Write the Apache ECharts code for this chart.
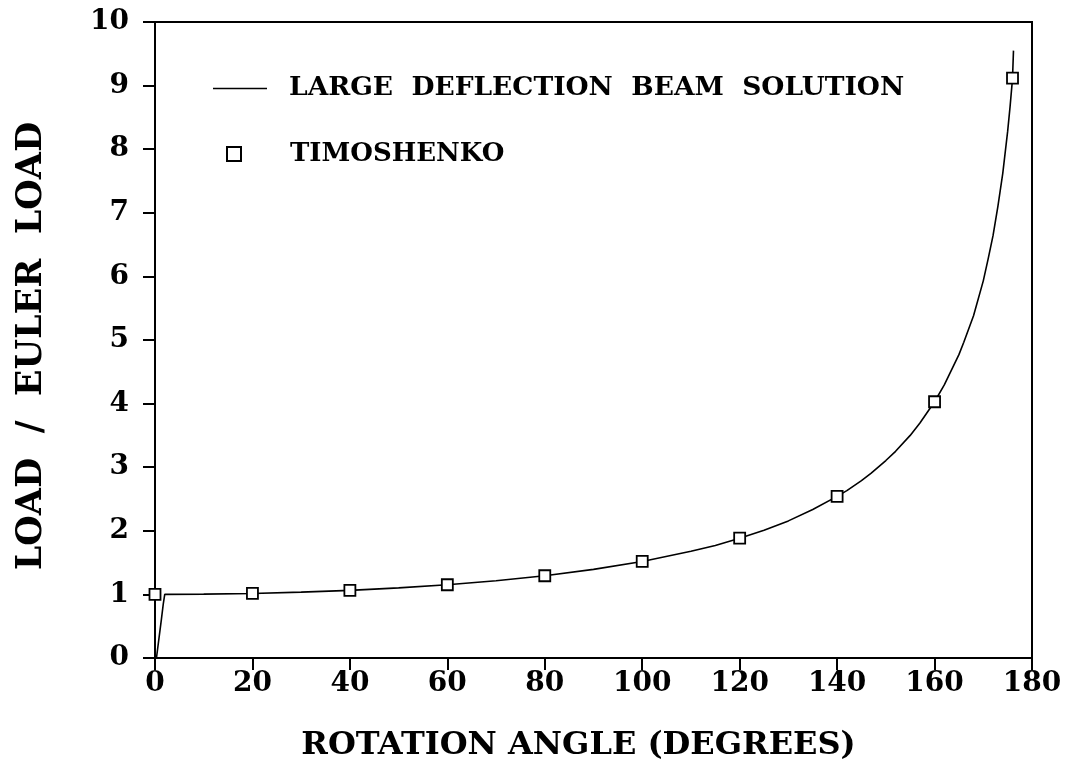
<!DOCTYPE html>
<html>
<head>
  <meta charset="utf-8">
  <title>Large deflection beam</title>
  <script src="https://cdn.jsdelivr.net/npm/echarts@6/dist/echarts.min.js"></script>
  <style>
    html, body { margin: 0; padding: 0; background: #fff; }
  </style>
</head>
<body>
<div id="main" style="width: 1067px;height:772px;"></div>
<script type="text/javascript">
  // large deflection curve
  var beamAngle = [0.3, 0.8, 1.3, 1.7, 2.0, 10, 20, 30, 40, 50, 60, 70, 80, 90, 100, 110, 115, 120, 125, 130, 135, 140, 142, 145, 147, 150, 152, 155, 157, 160, 162, 165, 166, 168, 170, 171, 172, 173, 174, 175, 175.5, 176, 176.2];
  var beamLoad  = [0.0, 0.3, 0.6, 0.85, 1.0, 1.004, 1.015, 1.035, 1.063, 1.102, 1.152, 1.215, 1.293, 1.393, 1.518, 1.678, 1.77, 1.884, 2.01, 2.156, 2.335, 2.541, 2.631, 2.79, 2.907, 3.105, 3.25, 3.50, 3.694, 4.029, 4.294, 4.77, 4.965, 5.38, 5.93, 6.276, 6.64, 7.10, 7.62, 8.28, 8.67, 9.11, 9.55];

  // Timoshenko points
  var timoAngle = [0, 20, 40, 60, 80, 100, 120, 140, 160, 176];
  var timoLoad  = [1.0, 1.015, 1.063, 1.152, 1.293, 1.518, 1.884, 2.541, 4.029, 9.116];

  var fontFam = 'DejaVu Serif';

  var myChart = echarts.init(document.getElementById('main'));

  var option = {
    animation: false,
    backgroundColor: '#fff',
    grid: {
      left: 155, right: 35, top: 22, bottom: 114,
      show: true, borderColor: '#000', borderWidth: 2
    },
    legend: [
      {
        data: [{ name: 'LARGE  DEFLECTION  BEAM  SOLUTION', icon: 'rect' }],
        left: 208, top: 70, itemWidth: 54, itemHeight: 1.6,
        itemStyle: { color: '#000', borderWidth: 0 },
        textStyle: { fontFamily: fontFam, fontWeight: 'bold', fontSize: 26.5, color: '#000', padding: [0, 0, 0, 17] }
      },
      {
        data: ['TIMOSHENKO'],
        left: 221, top: 136, itemWidth: 14, itemHeight: 14,
        textStyle: { fontFamily: fontFam, fontWeight: 'bold', fontSize: 26, color: '#000', padding: [0, 0, 0, 44] }
      }
    ],
    xAxis: {
      type: 'value', min: 0, max: 180, interval: 20,
      name: 'ROTATION ANGLE (DEGREES)', nameLocation: 'middle', nameGap: 72,
      nameTextStyle: { fontFamily: fontFam, fontWeight: 'bold', fontSize: 32, color: '#000', padding: [0, 30, 0, 0] },
      axisLine: { lineStyle: { color: '#000', width: 2 } },
      axisTick: { inside: false, length: 12, lineStyle: { color: '#000', width: 2 } },
      axisLabel: { margin: 12, fontFamily: fontFam, fontWeight: 'bold', fontSize: 28, color: '#000' },
      splitLine: { show: false }
    },
    yAxis: {
      type: 'value', min: 0, max: 10, interval: 1,
      name: 'LOAD  /  EULER  LOAD', nameLocation: 'middle', nameGap: 106,
      nameTextStyle: { fontFamily: fontFam, fontWeight: 'bold', fontSize: 35, color: '#000', padding: [0, 12, 0, 0] },
      axisLine: { lineStyle: { color: '#000', width: 2 } },
      axisTick: { inside: false, length: 12, lineStyle: { color: '#000', width: 2 } },
      axisLabel: { margin: 26, fontFamily: fontFam, fontWeight: 'bold', fontSize: 28, color: '#000' },
      splitLine: { show: false }
    },
    series: [
      {
        name: 'LARGE  DEFLECTION  BEAM  SOLUTION',
        type: 'line',
        symbol: 'none',
        showSymbol: false,
        lineStyle: { color: '#000', width: 1.6 },
        itemStyle: { color: '#000' },
        data: beamAngle.map(function (a, i) { return [a, beamLoad[i]]; })
      },
      {
        name: 'TIMOSHENKO',
        type: 'scatter',
        symbol: 'rect',
        symbolSize: 11,
        itemStyle: { color: '#fff', borderColor: '#000', borderWidth: 1.8, opacity: 1 },
        z: 3,
        data: timoAngle.map(function (a, i) { return [a, timoLoad[i]]; })
      }
    ]
  };

  myChart.setOption(option);
</script>
</body>
</html>
